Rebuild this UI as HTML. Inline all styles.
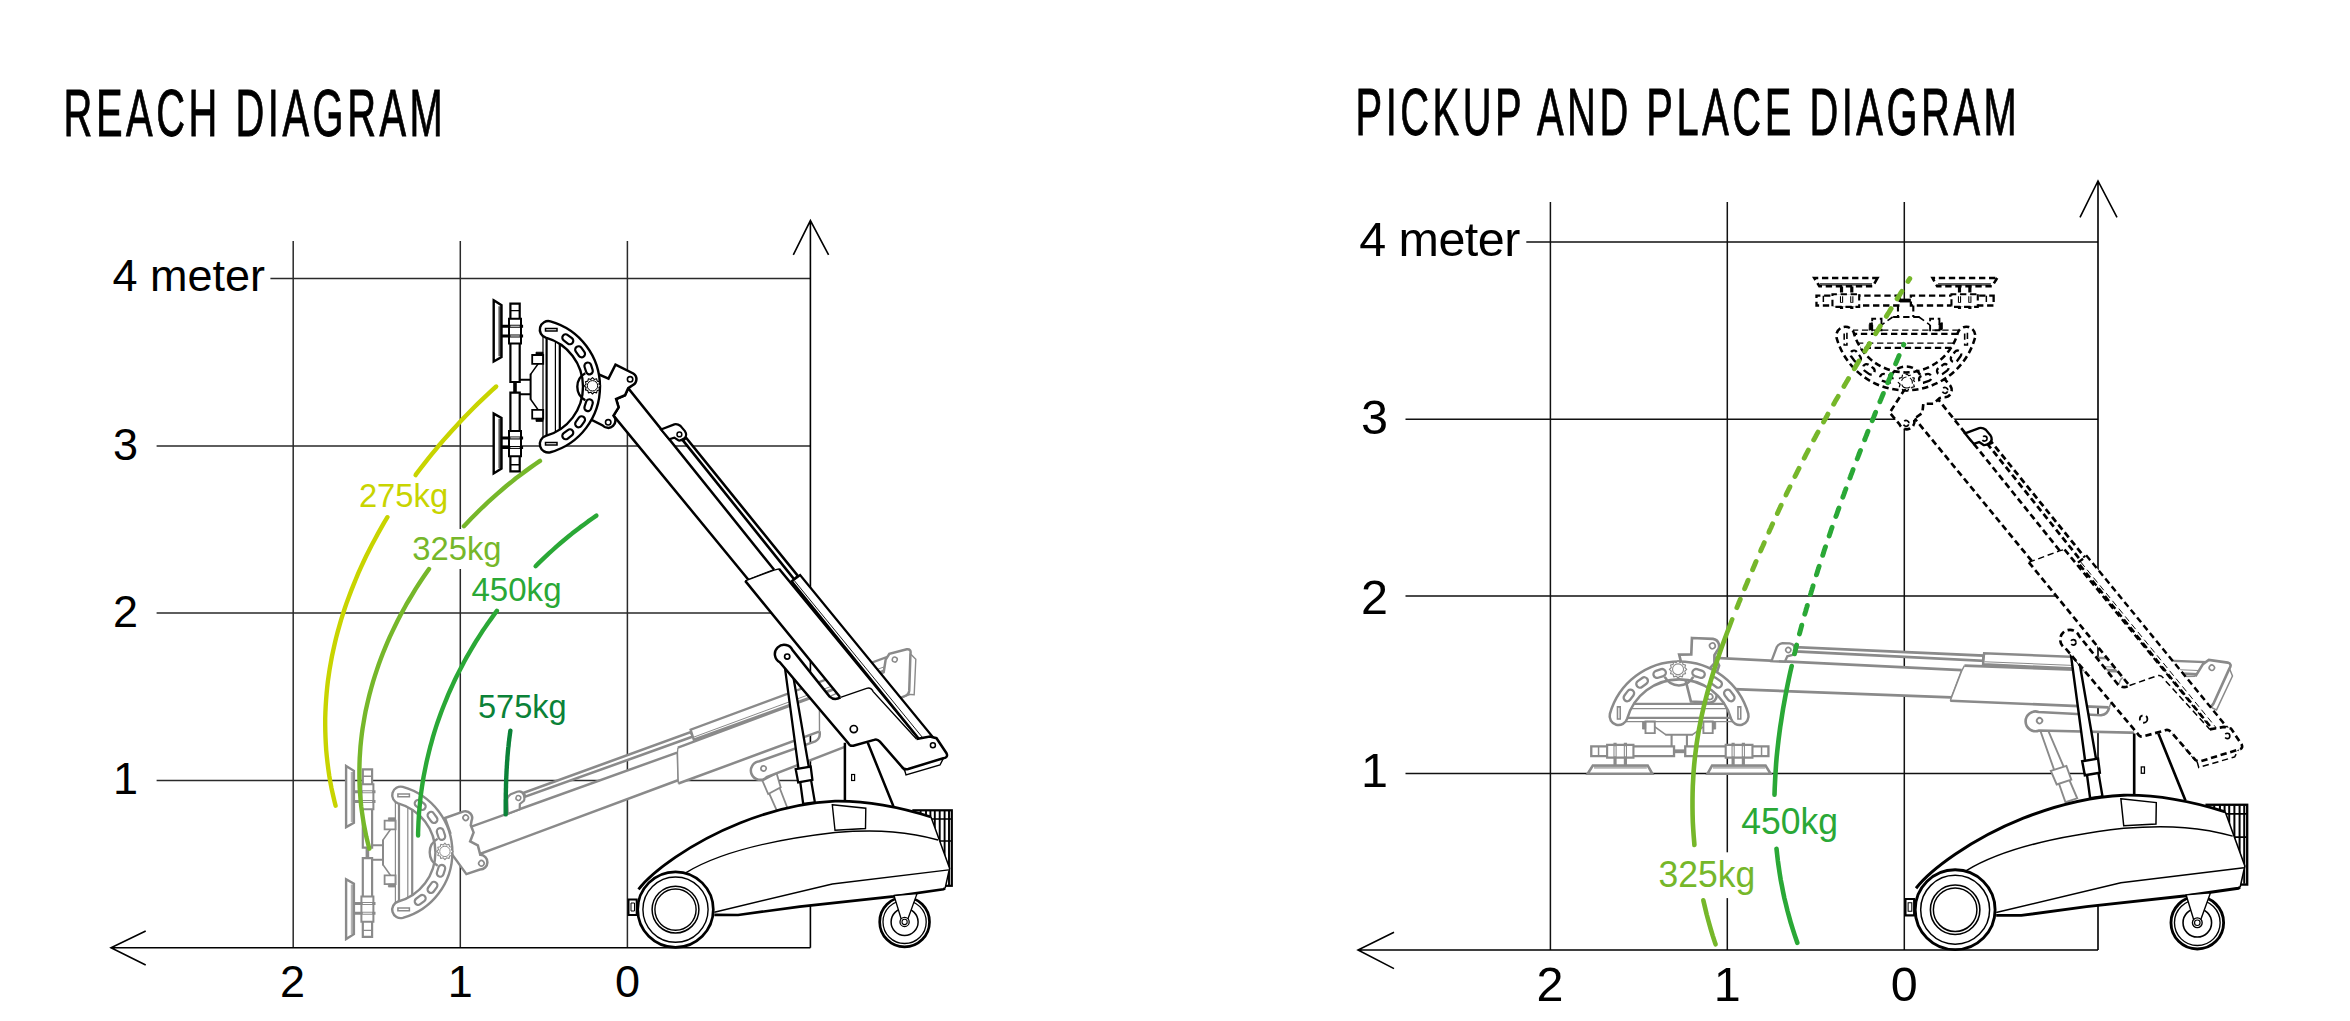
<!DOCTYPE html>
<html><head><meta charset="utf-8">
<style>
html,body{margin:0;padding:0;background:#fff;width:2350px;height:1021px;overflow:hidden}
svg{position:absolute;left:0;top:0;display:block}
text{font-family:"Liberation Sans",sans-serif}
</style></head><body>
<svg width="2350" height="1021" viewBox="0 0 2350 1021">
<defs>
<g id="head">
  <!-- mount -->
  <path d="M-1.4,-13 L11,-31 L11,31 L-1.4,13 Z" fill="#fff" stroke="none"/>
  <path d="M-1.4,-12.4 L11.2,-30.1 M-1.4,12.4 L11.2,30.1" fill="none" stroke-width="1.5"/>
  <path d="M0.2,-31.8h11v8.8h-11z M0.2,23h11v8.8h-11z" fill="#fff" stroke-width="1.8"/>
  <path d="M4,-34.6h7v3h-7z M4,31.6h7v3h-7z" fill="currentColor" stroke-width="0.8"/>
  <!-- connector lines -->
  <path d="M-12.7,-7.1H-1.4 M-12.7,7.4H-1.4 M-1.4,-13V13" fill="none" stroke-width="2"/>
  <!-- stems -->
  <rect x="-18.8" y="-5" width="3.6" height="11" fill="currentColor" stroke="none"/>
  <path d="M-21.6,-83.1h9.3v78.3h-9.3z M-21.6,5.8h9.3v78.7h-9.3z" fill="#fff" stroke-width="2.2"/>
  <path d="M-21.6,-76.2h9.3 M-21.6,78h9.3" fill="none" stroke-width="1.4"/>
  <path d="M-23,-68.1h12v24.9h-12z M-23,44.1h12v25.3h-12z" fill="#fff" stroke-width="2"/>
  <path d="M-30.5,-60.6H-8.9 M-30.5,-50.8H-8.9 M-30.5,51.1H-8.9 M-30.5,60.8H-8.9" fill="none" stroke-width="3"/>
  <path d="M-21.6,-60.6h9.3 M-21.6,-50.8h9.3 M-21.6,51.1h9.3 M-21.6,60.8h9.3" fill="none" stroke="#fff" stroke-width="1"/>
  <!-- pads -->
  <path d="M-38.3,-86.5 L-30.5,-81.6 L-30.5,-29.7 L-38.3,-25.3 Z M-38.3,26.8 L-30.5,31.2 L-30.5,81.8 L-38.3,86.6 Z" fill="#fff" stroke-width="2.4"/>
  <path d="M-33.6,-80.5h2.6v50h-2.6z M-33.6,32h2.6v49.5h-2.6z" fill="currentColor" stroke="none" opacity="0.65"/>
  <!-- ring -->
  <path d="M18.4,-65.46 A68,68 0 0 1 18.4,65.46 A8.5,8.5 0 0 1 13.8,49.1 A51,51 0 0 0 13.8,-49.1 A8.5,8.5 0 0 1 18.4,-65.46 Z" fill="#fff" stroke-width="2.4"/>
  <path d="M14.6,-49V49 M27.8,-43V43" fill="none" stroke-width="2.2"/>
  <path d="M11,-50V50 M23.4,-45.3V45.3" fill="none" stroke-width="1.2"/>
  <path d="M13.5,-58.3h11.5v2.6h-11.5z M13.5,55.7h11.5v2.6h-11.5z" fill="#fff" stroke-width="1.5"/>
  <g fill="#fff" stroke-width="2.2">
    <rect x="-6" y="-3.4" width="12" height="6.8" rx="3.4" transform="translate(35.8,-47.5) rotate(37)"/>
    <rect x="-6" y="-3.4" width="12" height="6.8" rx="3.4" transform="translate(48.1,-35) rotate(54)"/>
    <rect x="-6" y="-3.4" width="12" height="6.8" rx="3.4" transform="translate(56.6,-18.4) rotate(72)"/>
    <rect x="-6" y="-3.4" width="12" height="6.8" rx="3.4" transform="translate(56.6,18.4) rotate(108)"/>
    <rect x="-6" y="-3.4" width="12" height="6.8" rx="3.4" transform="translate(48.1,35) rotate(126)"/>
    <rect x="-6" y="-3.4" width="12" height="6.8" rx="3.4" transform="translate(35.8,47.5) rotate(143)"/>
  </g>
  <!-- gear -->
  <path d="M53.3,-13.6 A15.4,15.4 0 0 0 53.3,13.4" fill="none" stroke-width="2.4"/>
  <polygon points="68.70,-1.00 66.88,0.71 67.60,3.10 65.17,3.67 64.60,6.10 62.21,5.38 60.50,7.20 58.79,5.38 56.40,6.10 55.83,3.67 53.40,3.10 54.12,0.71 52.30,-1.00 54.12,-2.71 53.40,-5.10 55.83,-5.67 56.40,-8.10 58.79,-7.38 60.50,-9.20 62.21,-7.38 64.60,-8.10 65.17,-5.67 67.60,-5.10 66.88,-2.71" fill="#fff" stroke-width="1.1" stroke-linejoin="round"/>
  <circle cx="60.5" cy="-1" r="5.2" fill="none" stroke-width="1"/>
</g>
  <circle cx="60.5" cy="-1" r="7.2" fill="#fff" stroke-width="1.2"/>
</g>
<g id="armInner">
  <path d="M613.5,415.6 L618.6,407.3 L616.1,399 L625,395.2 L628.2,388.2 L774.1,569.7 L748.2,579.5 Z" fill="#fff" stroke="none"/>
  <path d="M748.2,579.5 L613.5,415.6 L618.6,407.3 L616.1,399 L625,395.2 L628.2,388.2 L774.1,569.7" fill="none" stroke-width="2.5"/>
  <path d="M774.1,569.7 L748.2,579.5" fill="none" stroke-width="1.3"/>
  <path d="M682.9,440.4 L686.1,437.8 L797.9,575.9 L794.4,579.5 Z" fill="#fff" stroke-width="2.6"/>
  <path d="M661,429.5 L674.3,424.4 Q677.4,423.6 680.6,426 L684.9,431.1 Q687.8,435.5 684.1,438.5 Q681,440.8 678.6,440.5 L674.3,437.7 L669.2,439.3 Z" fill="#fff" stroke-width="2.2" stroke-dasharray="none"/>
  <circle cx="679.4" cy="434.4" r="2.4" fill="#fff" stroke-width="1.5"/>
</g>
<g id="armOuter">
  <path d="M745.2,580.9 L774.1,570.1 L779,568.8 L919.9,739.9 L840,697 Z" fill="#fff" stroke="none"/>
  <path d="M745.2,580.9 L774.1,570.1 L779,568.8" fill="none" stroke-width="1.3"/>
  <path d="M779,568.8 L919.9,739.9 M745.2,580.9 L840,697" fill="none" stroke-width="2.5"/>
  <path d="M791.7,581.2 L800.1,575 L932.4,736.6 L919.9,739.9 Z" fill="#fff" stroke-width="2.3"/>
  <path d="M794.3,580.6 L922.5,737.5" fill="none" stroke-width="0.9"/>
  <path d="M904,768 L944,757 L940,765 L906,775 Z" fill="#fff" stroke-width="1.4"/>
  <path d="M881,742 L905,771" fill="none" stroke-width="1.4"/>
  <path d="M780,662.4 A9.3,9.3 0 1 1 792.7,650.4 L829.6,696.6 Q834.5,701 840.5,697.4 L866.6,688.3 Q871,687 873.2,691.6 L916.5,739 L929.9,736.6 L936.5,738.2 L946.5,753.2 Q948.5,757.5 943.2,758.2 L908.2,769 Q904,770 901.6,766.5 L879.9,741.6 Q877,738.5 874.1,739.9 L853.3,745.7 Q850,746.5 848.3,743.2 Z" fill="#fff" stroke="none"/>
  <path d="M840.5,697.4 L866.6,688.3 Q871,687 873.2,691.6 L916.5,739" fill="none" stroke-width="1.4"/>
  <path d="M916.5,739 L929.9,736.6 L936.5,738.2 L946.5,753.2 Q948.5,757.5 943.2,758.2 L908.2,769 Q904,770 901.6,766.5 L879.9,741.6 Q877,738.5 874.1,739.9 L853.3,745.7 Q850,746.5 848.3,743.2 L780,662.4 A9.3,9.3 0 1 1 792.7,650.4 L829.6,696.6 Q834.5,701 840.5,697.4" fill="none" stroke-width="2.5"/>
  <circle cx="787.2" cy="656.6" r="2.6" fill="#fff" stroke-width="1.7"/>
  <circle cx="853.8" cy="729.1" r="3.6" fill="#fff" stroke-width="1.7"/>
  <circle cx="932.9" cy="745.2" r="2.5" fill="#fff" stroke-width="1.5"/>
</g>
<g id="hbr">
  <path d="M615.5,364.6 L633.3,373.5 A6.8,6.8 0 0 1 632,385.6 L628.2,388.2 L625,395.2 L616.1,399 L618.6,407.3 L613.5,415.6 A6.6,6.6 0 0 1 602.7,425.5 L590,419 L598,374 L608.5,378.6 Z" fill="#fff" stroke-width="2.5"/>
  <circle cx="630.1" cy="379.3" r="2.7" fill="#fff" stroke-width="1.6"/>
  <circle cx="608.2" cy="422.3" r="2.7" fill="#fff" stroke-width="1.6"/>
</g>
<g id="base">
  <!-- grill -->
  <rect x="913.4" y="810.3" width="38.4" height="75.5" fill="#fff" stroke-width="2.2"/>
  <path d="M920.6,811V885 M926,811V885 M930.4,811V885 M934.8,811V885 M939.7,811V885 M944.6,811V885 M949,811V885" fill="none" stroke-width="1.9"/>
  <path d="M914,819H951 M914,841H951" fill="none" stroke-width="1.6"/>
  <!-- mast -->
  <path d="M844.9,735 L844.9,803 L893.4,806.3 L867.8,742.8 L860,735 Z" fill="#fff" stroke="none"/>
  <path d="M844.9,742.8V802 M867.8,742.8 L893.4,806.3" fill="none" stroke-width="2.5"/>
  <rect x="851.6" y="774.5" width="3" height="6" fill="#fff" stroke-width="1.2"/>
  <!-- body -->
  <path d="M638.5,889.3 C652,872 690,843 740,823 C770,811 800,803 835,801.2 C860,800.8 890,804 931,817 L949.6,868.2 L945.1,888.4 L943.4,889.3 L894,896.4 L799.8,906.6 L738.1,915 L714.3,914.9 L700,930 L650,930 Z" fill="#fff" stroke="none"/>
  <path d="M638.5,889.3 C652,872 690,843 740,823 C770,811 800,803 835,801.2 C860,800.8 890,804 931,817" fill="none" stroke-width="2.8"/>
  <path d="M931,817 L949.6,868.2 L945.1,888.4" fill="none" stroke-width="1.5"/>
  <path d="M945.1,888.4 L943.4,889.3 L894,896.4 L799.8,906.6 L738.1,915 L714.3,914.9" fill="none" stroke-width="2.7"/>
  <path d="M686.1,872.6 C720,852 770,840 835,832.5 C880,829 910,832 938.1,840" fill="none" stroke-width="1.4"/>
  <path d="M714.3,912.2 L832.3,884 L948.7,869.9" fill="none" stroke-width="1.4"/>
  <path d="M832.3,804.7 L865.8,808.2 L865.5,828.5 L835,830.2 Z" fill="#fff" stroke-width="1.4"/>
  <!-- bumper -->
  <path d="M628.5,899.5h8.2v15.4h-8.2z" fill="#fff" stroke-width="2"/>
  <path d="M631,903h3.5v8h-3.5z" fill="none" stroke-width="1"/>
  <!-- front wheel -->
  <circle cx="675.5" cy="909.6" r="37.8" fill="#fff" stroke-width="2.7"/>
  <circle cx="675.5" cy="909.6" r="32.6" fill="none" stroke-width="1.4"/>
  <circle cx="675.5" cy="909.6" r="23.4" fill="none" stroke-width="1.5"/>
  <circle cx="675.5" cy="909.6" r="20.6" fill="none" stroke-width="1.4"/>
  <!-- rear wheel -->
  <circle cx="904.6" cy="921.9" r="24.9" fill="#fff" stroke-width="2.7"/>
  <circle cx="904.6" cy="921.9" r="21.6" fill="none" stroke-width="1.3"/>
  <circle cx="904.6" cy="921.9" r="13.5" fill="none" stroke-width="1.5"/>
  <path d="M894,895.5 L917,893.7 L907.5,920 L901.5,920 Z" fill="#fff" stroke-width="1.3"/>
  <circle cx="904.6" cy="921.9" r="4.6" fill="#fff" stroke-width="1.3"/>
  <circle cx="904.6" cy="921.9" r="2.6" fill="none" stroke-width="1.1"/>
</g>
</defs>
<rect x="0" y="0" width="2350" height="1021" fill="#fff"/>
<text transform="scale(0.59,1)" x="107.8" y="135.8" font-size="67.6" letter-spacing="6" stroke="#000" stroke-width="0.9">REACH DIAGRAM</text>
<text transform="scale(0.59,1)" x="2297.5" y="135.5" font-size="67.6" letter-spacing="6" stroke="#000" stroke-width="0.9">PICKUP AND PLACE DIAGRAM</text>
<g stroke="#2a2a2a" stroke-width="1.5" fill="none">
  <path d="M270.4 278.6H810.4 M156.6 445.9H810.4 M156.6 613.1H810.4 M156.6 780.4H810.4"/>
  <path d="M293.2 241V947.7 M460.3 241V947.7 M627.4 241V947.7"/>
</g>
<g stroke="#000" stroke-width="1.6" fill="none">
  <path d="M810.4 220.6V947.7 M793.3 254.8L810.4 220.6L828.6 254.8"/>
  <path d="M111 947.7H810.4 M145.7 931L111 947.7L145.7 965"/>
</g>
<g font-size="45" fill="#000">
  <text x="112.5" y="291.2">4 meter</text>
  <text x="113" y="459.5">3</text>
  <text x="113" y="626.8">2</text>
  <text x="113" y="794">1</text>
  <text x="292.5" y="996.5" text-anchor="middle">2</text>
  <text x="460.3" y="996.5" text-anchor="middle">1</text>
  <text x="627.4" y="996.5" text-anchor="middle">0</text>
</g>
<g stroke="#111" stroke-width="1.5" fill="none">
  <path d="M1526.3 242H2098 M1405.5 419.2H2098 M1405.5 596H2098 M1405.5 773.5H2098"/>
  <path d="M1550.4 202V950 M1727.3 202V950 M1904.3 202V950"/>
</g>
<g stroke="#000" stroke-width="1.6" fill="none">
  <path d="M2098 181V950 M2080 217.3L2098 181L2117 217.3"/>
  <path d="M1358 950H2098 M1394 932.3L1358 950L1394 968.6"/>
</g>
<g font-size="48.5" fill="#000">
  <text x="1359.3" y="256" textLength="161">4 meter</text>
  <text x="1361" y="433.9">3</text>
  <text x="1361" y="613.6">2</text>
  <text x="1361" y="787">1</text>
  <text x="1550" y="1001.3" text-anchor="middle">2</text>
  <text x="1727.3" y="1001.3" text-anchor="middle">1</text>
  <text x="1904.3" y="1001.3" text-anchor="middle">0</text>
</g>
<g stroke="#8a8a8a" color="#8a8a8a">
<path d="M763.2,779.9 L774.9,775.7 L788.2,810 L776.6,810 Z" fill="#fff" stroke-width="1.8"/>
<path d="M762.4,780.7 L776.6,773.2 L780.7,787.4 L768.2,794 Z" fill="#fff" stroke-width="1.8"/>
<use href="#armInner" transform="rotate(-71,853.8,729.1)"/>
<use href="#armOuter" transform="rotate(-71,853.8,729.1)"/>
<use href="#hbr" transform="translate(465.7,817.7) rotate(-46) translate(-630.1,-379.3)"/>
<use href="#head" transform="translate(384.4,852.4)"/>
</g>
<rect x="450" y="529" width="20" height="40" fill="#fff"/>
<rect x="1717" y="852.3" width="20" height="45.8" fill="#fff"/>
<path d="M496.2,386.5 L491.6,390.6 L487.1,394.8 L482.6,399.1 L478.1,403.4 L473.7,407.8 L469.3,412.2 L464.9,416.7 L460.6,421.3 L456.3,425.9 L452.1,430.5 L447.9,435.2 L443.7,439.9 L439.6,444.7 L435.6,449.6 L431.6,454.4 L427.6,459.4 L423.7,464.4 L419.8,469.4 L416.0,474.4 L415.6,475.1" fill="none" stroke="#c8d400" stroke-width="4.4" stroke-linecap="round" stroke-linejoin="round"/>
<path d="M387.4,517.2 L384.1,522.6 L381.0,528.1 L377.9,533.6 L374.9,539.2 L371.9,544.8 L369.0,550.4 L366.2,556.0 L363.5,561.7 L360.9,567.4 L358.3,573.2 L355.9,579.0 L353.5,584.8 L351.2,590.6 L349.0,596.5 L346.8,602.4 L344.8,608.3 L342.9,614.2 L341.0,620.2 L339.3,626.2 L337.6,632.2 L336.0,638.3 L334.6,644.3 L333.2,650.4 L331.9,656.5 L330.8,662.6 L329.7,668.8 L328.8,674.9 L327.9,681.1 L327.2,687.3 L326.6,693.5 L326.1,699.8 L325.7,706.0 L325.4,712.3 L325.2,718.5 L325.2,724.8 L325.3,731.1 L325.5,737.4 L325.8,743.7 L326.2,750.1 L326.8,756.4 L327.5,762.7 L328.3,769.1 L329.2,775.4 L330.3,781.8 L331.5,788.2 L332.9,794.5 L334.4,800.9 L335.6,805.7" fill="none" stroke="#c8d400" stroke-width="4.4" stroke-linecap="round" stroke-linejoin="round"/>
<path d="M540.0,460.9 L535.1,464.2 L530.3,467.6 L525.5,471.1 L520.7,474.7 L515.9,478.3 L511.3,482.1 L506.6,485.8 L502.0,489.7 L497.5,493.6 L493.0,497.6 L488.5,501.7 L484.1,505.8 L479.7,510.0 L475.5,514.2 L471.2,518.5 L467.0,522.9 L463.9,526.2" fill="none" stroke="#76b72a" stroke-width="4.4" stroke-linecap="round" stroke-linejoin="round"/>
<path d="M429.0,569.0 L425.5,574.0 L422.1,579.0 L418.8,584.0 L415.5,589.1 L412.4,594.3 L409.3,599.5 L406.2,604.7 L403.3,610.0 L400.4,615.3 L397.7,620.6 L395.0,626.0 L392.4,631.4 L389.8,636.9 L387.4,642.4 L385.1,647.9 L382.8,653.5 L380.7,659.1 L378.6,664.7 L376.7,670.4 L374.8,676.1 L373.0,681.8 L371.4,687.5 L369.8,693.3 L368.4,699.1 L367.0,704.9 L365.7,710.7 L364.6,716.6 L363.6,722.5 L362.6,728.4 L361.8,734.3 L361.1,740.2 L360.5,746.2 L360.1,752.1 L359.7,758.1 L359.5,764.1 L359.4,770.1 L359.4,776.1 L359.5,782.1 L359.7,788.2 L360.1,794.2 L360.6,800.2 L361.2,806.3 L362.0,812.3 L362.9,818.4 L363.9,824.5 L365.1,830.5 L366.3,836.6 L367.8,842.7 L369.3,848.7 L369.3,848.7" fill="none" stroke="#76b72a" stroke-width="4.4" stroke-linecap="round" stroke-linejoin="round"/>
<path d="M596.4,515.6 L592.3,518.5 L588.1,521.4 L584.1,524.4 L580.0,527.4 L576.0,530.5 L572.0,533.6 L568.1,536.8 L564.2,540.0 L560.3,543.3 L556.4,546.6 L552.7,550.0 L548.9,553.4 L545.2,556.9 L541.5,560.4 L537.9,563.9 L535.6,566.2" fill="none" stroke="#2aa836" stroke-width="4.4" stroke-linecap="round" stroke-linejoin="round"/>
<path d="M496.9,610.8 L493.9,614.9 L490.9,619.1 L487.9,623.2 L485.1,627.4 L482.2,631.6 L479.5,635.9 L476.7,640.2 L474.1,644.5 L471.5,648.9 L468.9,653.3 L466.4,657.7 L463.9,662.2 L461.6,666.7 L459.2,671.2 L456.9,675.7 L454.7,680.3 L452.6,684.9 L450.5,689.5 L448.4,694.2 L446.5,698.8 L444.6,703.5 L442.7,708.3 L440.9,713.0 L439.2,717.8 L437.5,722.6 L435.9,727.4 L434.4,732.2 L432.9,737.1 L431.6,742.0 L430.2,746.9 L429.0,751.8 L427.8,756.7 L426.6,761.7 L425.6,766.6 L424.6,771.6 L423.6,776.6 L422.8,781.6 L422.0,786.7 L421.3,791.7 L420.6,796.7 L420.1,801.8 L419.6,806.9 L419.1,812.0 L418.8,817.1 L418.5,822.2 L418.3,827.3 L418.1,832.4 L418.1,835.6" fill="none" stroke="#2aa836" stroke-width="4.4" stroke-linecap="round" stroke-linejoin="round"/>
<path d="M510.4,730.7 L510.2,731.8 L510.1,732.9 L509.9,734.0 L509.8,735.1 L509.6,736.3 L509.5,737.4 L509.3,738.5 L509.2,739.6 L509.1,740.7 L508.9,741.8 L508.8,742.9 L508.7,744.0 L508.6,745.2 L508.5,746.3 L508.3,747.4 L508.2,748.5 L508.1,749.6 L508.0,750.7 L507.9,751.8 L507.8,753.0 L507.7,754.1 L507.6,755.2 L507.5,756.3 L507.4,757.4 L507.4,758.5 L507.3,759.7 L507.2,760.8 L507.1,761.9 L507.0,763.0 L507.0,764.1 L506.9,765.3 L506.8,766.4 L506.8,767.5 L506.7,768.6 L506.6,769.7 L506.6,770.8 L506.5,772.0 L506.5,773.1 L506.4,774.2 L506.4,775.3 L506.3,776.4 L506.3,777.6 L506.2,778.7 L506.2,779.8 L506.2,780.9 L506.1,782.0 L506.1,783.2 L506.0,784.3 L506.0,785.4 L506.0,786.5 L506.0,787.6 L505.9,788.8 L505.9,789.9 L505.9,791.0 L505.9,792.1 L505.8,793.3 L505.8,794.4 L505.8,795.5 L505.8,796.6 L505.8,797.7 L505.8,798.9 L505.7,800.0 L505.7,801.1 L505.7,802.2 L505.7,803.3 L505.7,804.5 L505.7,805.6 L505.7,806.7 L505.7,807.8 L505.7,808.9 L505.7,810.1 L505.7,811.2 L505.7,812.3 L505.7,813.4 L505.7,814.4" fill="none" stroke="#0b8238" stroke-width="4.4" stroke-linecap="round" stroke-linejoin="round"/>
<text x="358.9" y="506.9" font-size="32.7" fill="#c8d400" textLength="89.2" lengthAdjust="spacingAndGlyphs">275kg</text>
<text x="412.3" y="560.3" font-size="32.7" fill="#76b72a" textLength="89.2" lengthAdjust="spacingAndGlyphs">325kg</text>
<text x="471.5" y="600.7" font-size="32.7" fill="#2aa836" textLength="90.0" lengthAdjust="spacingAndGlyphs">450kg</text>
<text x="478.0" y="718.0" font-size="32.7" fill="#0b8238" textLength="88.7" lengthAdjust="spacingAndGlyphs">575kg</text>
<g stroke="#000" color="#000">
<path d="M784.9,667.6 L793.5,677.8 L814.9,802.4 L803.2,804 Z" fill="#fff" stroke-width="2.3"/>
<path d="M795.7,769.1 L810.7,766.6 L812.4,779.9 L798.2,782.4 Z" fill="#fff" stroke-width="2.3"/>
<use href="#base"/>
<use href="#armInner"/>
<use href="#armOuter"/>
<use href="#hbr"/>
<use href="#head" transform="translate(532,386.8)"/>
</g>
<g stroke="#8a8a8a" color="#8a8a8a">
<path d="M2040,729.7 L2047.8,729.7 L2077.2,798.3 L2065.5,802.2 Z" fill="#fff" stroke-width="1.9"/>
<path d="M2050.8,770.8 L2066.4,765.9 L2071.3,779.6 L2056.7,784.5 Z" fill="#fff" stroke-width="1.9"/>
<use href="#armInner" transform="translate(1904.3,950) scale(1.057) translate(-627.4,-947.7) rotate(-48.4,853.8,729.1)"/>
<use href="#armOuter" transform="translate(1904.3,950) scale(1.057) translate(-627.4,-947.7) rotate(-48.4,853.8,729.1)"/>
<use href="#hbr" transform="translate(1712.4,645.8) rotate(-24.2) scale(1.057) translate(-630.1,-379.3)"/>
<use href="#head" transform="translate(1679.1,733.3) scale(1.057) rotate(-90)"/>
</g>
<g stroke="#000" color="#000">
<path d="M784.9,667.6 L793.5,677.8 L814.9,802.4 L803.2,804 Z" transform="translate(1904.3,950) scale(1.057) translate(-627.4,-947.7)" fill="#fff" stroke-width="2.3"/>
<path d="M795.7,769.1 L810.7,766.6 L812.4,779.9 L798.2,782.4 Z" transform="translate(1904.3,950) scale(1.057) translate(-627.4,-947.7)" fill="#fff" stroke-width="2.3"/>
<use href="#base" transform="translate(1904.3,950) scale(1.057) translate(-627.4,-947.7)"/>
</g>
<rect x="1896" y="299" width="17" height="128" fill="#fff"/>
<g stroke="#000" color="#000" stroke-dasharray="6 3.5">
<use href="#armInner" transform="translate(1904.3,950) scale(1.057) translate(-627.4,-947.7) translate(23.9,29.5)"/>
<use href="#armOuter" transform="translate(1904.3,950) scale(1.057) translate(-627.4,-947.7)"/>
<use href="#hbr" transform="translate(1945,390.3) rotate(22.7) scale(1.057) translate(-630.1,-379.3)"/>
<use href="#head" transform="translate(1905.8,318.5) scale(1.057) rotate(90)"/>
</g>
<path d="M1736.9,607.6 L1737.6,605.9 L1738.3,604.2 L1738.9,602.5 L1739.6,600.9 L1740.3,599.2 L1741.0,597.5 L1741.7,595.9 L1742.4,594.2 L1743.1,592.5 L1743.7,590.8 L1744.4,589.2 L1745.1,587.5 L1745.8,585.8 L1746.5,584.2 L1747.2,582.5 L1747.9,580.8 L1748.6,579.2 L1749.3,577.5 L1750.0,575.8 L1750.7,574.2 L1751.4,572.5 L1752.1,570.9 L1752.8,569.2 L1753.5,567.5 L1754.2,565.9 L1754.9,564.2 L1755.6,562.6 L1756.3,560.9 L1757.0,559.3 L1757.8,557.6 L1758.5,556.0 L1759.2,554.3 L1759.9,552.6 L1760.6,551.0 L1761.3,549.3 L1762.0,547.7 L1762.8,546.0 L1763.5,544.4 L1764.2,542.7 L1764.9,541.1 L1765.6,539.5 L1766.4,537.8 L1767.1,536.2 L1767.8,534.5 L1768.6,532.9 L1769.3,531.2 L1770.0,529.6 L1770.8,528.0 L1771.5,526.3 L1772.2,524.7 L1773.0,523.1 L1773.7,521.4 L1774.4,519.8 L1775.2,518.1 L1775.9,516.5 L1776.7,514.9 L1777.4,513.3 L1778.2,511.6 L1778.9,510.0 L1779.7,508.4 L1780.4,506.7 L1781.2,505.1 L1782.0,503.5 L1782.7,501.9 L1783.5,500.2 L1784.2,498.6 L1785.0,497.0 L1785.8,495.4 L1786.5,493.8 L1787.3,492.1 L1788.1,490.5 L1788.9,488.9 L1789.7,487.3 L1790.4,485.7 L1791.2,484.1 L1792.0,482.5 L1792.8,480.8 L1793.6,479.2 L1794.4,477.6 L1795.2,476.0 L1796.0,474.4 L1796.8,472.8 L1797.6,471.2 L1798.4,469.6 L1799.2,468.0 L1800.0,466.4 L1800.8,464.8 L1801.6,463.2 L1802.4,461.6 L1803.2,460.0 L1804.1,458.4 L1804.9,456.8 L1805.7,455.2 L1806.5,453.6 L1807.4,452.0 L1808.2,450.4 L1809.0,448.9 L1809.9,447.3 L1810.7,445.7 L1811.5,444.1 L1812.4,442.5 L1813.2,440.9 L1814.1,439.3 L1814.9,437.8 L1815.8,436.2 L1816.6,434.6 L1817.5,433.0 L1818.4,431.4 L1819.2,429.9 L1820.1,428.3 L1821.0,426.7 L1821.8,425.1 L1822.7,423.6 L1823.6,422.0 L1824.4,420.4 L1825.3,418.9 L1826.2,417.3 L1827.1,415.7 L1827.9,414.1 L1828.8,412.6 L1829.7,411.0 L1830.6,409.4 L1831.5,407.9 L1832.4,406.3 L1833.3,404.8 L1834.2,403.2 L1835.1,401.6 L1836.0,400.1 L1836.9,398.5 L1837.8,397.0 L1838.7,395.4 L1839.6,393.8 L1840.5,392.3 L1841.4,390.7 L1842.3,389.2 L1843.2,387.6 L1844.1,386.1 L1845.0,384.5 L1845.9,383.0 L1846.8,381.4 L1847.7,379.9 L1848.7,378.3 L1849.6,376.8 L1850.5,375.2 L1851.4,373.7 L1852.3,372.1 L1853.3,370.6 L1854.2,369.0 L1855.1,367.5 L1856.0,365.9 L1857.0,364.4 L1857.9,362.8 L1858.8,361.3 L1859.7,359.8 L1860.7,358.2 L1861.6,356.7 L1862.5,355.1 L1863.5,353.6 L1864.4,352.1 L1865.3,350.5 L1866.3,349.0 L1867.2,347.4 L1868.1,345.9 L1869.1,344.4 L1870.0,342.8 L1871.0,341.3 L1871.9,339.8 L1872.8,338.2 L1873.8,336.7 L1874.7,335.1 L1875.7,333.6 L1876.6,332.1 L1877.6,330.5 L1878.5,329.0 L1879.4,327.5 L1880.4,325.9 L1881.3,324.4 L1882.3,322.9 L1883.2,321.4 L1884.2,319.8 L1885.1,318.3 L1886.1,316.8 L1887.0,315.2 L1888.0,313.7 L1888.9,312.2 L1889.9,310.6 L1890.8,309.1 L1891.8,307.6 L1892.7,306.1 L1893.7,304.5 L1894.6,303.0 L1895.5,301.5 L1896.5,299.9 L1897.4,298.4 L1898.4,296.9 L1899.3,295.4 L1900.3,293.8 L1901.2,292.3 L1902.2,290.8 L1903.1,289.3 L1904.1,287.7 L1905.0,286.2 L1906.0,284.7 L1906.9,283.1 L1907.9,281.6 L1908.8,280.1 L1909.8,278.6" fill="none" stroke="#76b72a" stroke-width="4.9" stroke-linecap="round" stroke-linejoin="round" stroke-dasharray="9 11.5"/>
<path d="M1732.2,619.3 L1729.6,626.1 L1727.0,632.8 L1724.5,639.6 L1722.0,646.4 L1719.6,653.2 L1717.3,660.0 L1715.0,666.9 L1712.9,673.7 L1710.8,680.6 L1708.8,687.5 L1706.9,694.4 L1705.1,701.3 L1703.4,708.3 L1701.8,715.3 L1700.4,722.2 L1699.0,729.3 L1697.8,736.3 L1696.7,743.4 L1695.8,750.4 L1694.9,757.5 L1694.2,764.6 L1693.6,771.7 L1693.2,778.9 L1692.8,786.0 L1692.6,793.1 L1692.5,800.3 L1692.5,807.4 L1692.6,814.6 L1692.8,821.8 L1693.2,828.9 L1693.7,836.1 L1694.3,843.3 L1694.4,845.0" fill="none" stroke="#76b72a" stroke-width="4.6" stroke-linecap="round" stroke-linejoin="round"/>
<path d="M1703.3,900.3 L1705.0,907.4 L1706.7,914.5 L1708.6,921.5 L1710.6,928.6 L1712.7,935.6 L1715.0,942.6 L1715.6,944.3" fill="none" stroke="#76b72a" stroke-width="4.6" stroke-linecap="round" stroke-linejoin="round"/>
<path d="M1794.5,653.8 L1794.9,652.3 L1795.2,650.8 L1795.6,649.3 L1796.0,647.7 L1796.3,646.2 L1796.7,644.7 L1797.1,643.2 L1797.5,641.7 L1797.9,640.2 L1798.3,638.7 L1798.6,637.1 L1799.0,635.6 L1799.4,634.1 L1799.8,632.6 L1800.2,631.1 L1800.6,629.6 L1801.0,628.1 L1801.4,626.6 L1801.8,625.1 L1802.2,623.6 L1802.7,622.1 L1803.1,620.5 L1803.5,619.0 L1803.9,617.5 L1804.3,616.0 L1804.7,614.5 L1805.1,613.0 L1805.6,611.5 L1806.0,610.0 L1806.4,608.5 L1806.9,607.0 L1807.3,605.5 L1807.7,604.0 L1808.1,602.5 L1808.6,601.0 L1809.0,599.5 L1809.5,598.0 L1809.9,596.5 L1810.3,595.0 L1810.8,593.5 L1811.2,592.0 L1811.7,590.5 L1812.1,589.0 L1812.6,587.5 L1813.0,586.0 L1813.5,584.5 L1813.9,583.0 L1814.4,581.6 L1814.8,580.1 L1815.3,578.6 L1815.8,577.1 L1816.2,575.6 L1816.7,574.1 L1817.2,572.6 L1817.6,571.1 L1818.1,569.6 L1818.6,568.1 L1819.0,566.7 L1819.5,565.2 L1820.0,563.7 L1820.5,562.2 L1820.9,560.7 L1821.4,559.2 L1821.9,557.7 L1822.4,556.2 L1822.9,554.8 L1823.4,553.3 L1823.8,551.8 L1824.3,550.3 L1824.8,548.8 L1825.3,547.4 L1825.8,545.9 L1826.3,544.4 L1826.8,542.9 L1827.3,541.4 L1827.8,540.0 L1828.3,538.5 L1828.8,537.0 L1829.3,535.5 L1829.8,534.0 L1830.3,532.6 L1830.8,531.1 L1831.3,529.6 L1831.8,528.1 L1832.3,526.7 L1832.9,525.2 L1833.4,523.7 L1833.9,522.2 L1834.4,520.8 L1834.9,519.3 L1835.4,517.8 L1835.9,516.4 L1836.5,514.9 L1837.0,513.4 L1837.5,511.9 L1838.0,510.5 L1838.6,509.0 L1839.1,507.5 L1839.6,506.1 L1840.1,504.6 L1840.7,503.1 L1841.2,501.7 L1841.7,500.2 L1842.3,498.7 L1842.8,497.3 L1843.3,495.8 L1843.9,494.3 L1844.4,492.9 L1844.9,491.4 L1845.5,489.9 L1846.0,488.5 L1846.6,487.0 L1847.1,485.6 L1847.7,484.1 L1848.2,482.6 L1848.7,481.2 L1849.3,479.7 L1849.8,478.3 L1850.4,476.8 L1850.9,475.3 L1851.5,473.9 L1852.0,472.4 L1852.6,471.0 L1853.1,469.5 L1853.7,468.1 L1854.3,466.6 L1854.8,465.1 L1855.4,463.7 L1855.9,462.2 L1856.5,460.8 L1857.0,459.3 L1857.6,457.9 L1858.2,456.4 L1858.7,455.0 L1859.3,453.5 L1859.8,452.1 L1860.4,450.6 L1861.0,449.2 L1861.5,447.7 L1862.1,446.3 L1862.7,444.8 L1863.2,443.4 L1863.8,441.9 L1864.4,440.5 L1865.0,439.0 L1865.5,437.6 L1866.1,436.1 L1866.7,434.7 L1867.2,433.2 L1867.8,431.8 L1868.4,430.3 L1869.0,428.9 L1869.5,427.5 L1870.1,426.0 L1870.7,424.6 L1871.3,423.1 L1871.9,421.7 L1872.4,420.2 L1873.0,418.8 L1873.6,417.4 L1874.2,415.9 L1874.8,414.5 L1875.3,413.0 L1875.9,411.6 L1876.5,410.2 L1877.1,408.7 L1877.7,407.3 L1878.3,405.8 L1878.8,404.4 L1879.4,403.0 L1880.0,401.5 L1880.6,400.1 L1881.2,398.7 L1881.8,397.2 L1882.4,395.8 L1883.0,394.4 L1883.5,392.9 L1884.1,391.5 L1884.7,390.1 L1885.3,388.6 L1885.9,387.2 L1886.5,385.8 L1887.1,384.3 L1887.7,382.9 L1888.3,381.5 L1888.9,380.0 L1889.5,378.6 L1890.1,377.2 L1890.7,375.7 L1891.2,374.3 L1891.8,372.9 L1892.4,371.5 L1893.0,370.0 L1893.6,368.6 L1894.2,367.2 L1894.8,365.7 L1895.4,364.3 L1896.0,362.9 L1896.6,361.5 L1897.2,360.0 L1897.8,358.6 L1898.4,357.2 L1899.0,355.8 L1899.6,354.3 L1900.2,352.9 L1900.8,351.5 L1901.4,350.1 L1902.0,348.6 L1902.6,347.2 L1903.2,345.8 L1903.8,344.4" fill="none" stroke="#2aa836" stroke-width="4.9" stroke-linecap="round" stroke-linejoin="round" stroke-dasharray="9 11.5"/>
<path d="M1791.7,666.0 L1790.3,672.0 L1789.0,678.1 L1787.7,684.2 L1786.5,690.3 L1785.3,696.5 L1784.2,702.6 L1783.1,708.7 L1782.1,714.8 L1781.2,720.9 L1780.2,727.1 L1779.4,733.2 L1778.6,739.4 L1777.9,745.5 L1777.2,751.7 L1776.6,757.8 L1776.1,764.0 L1775.7,770.1 L1775.3,776.3 L1775.0,782.5 L1774.7,788.6 L1774.5,794.8 L1774.5,794.8" fill="none" stroke="#2aa836" stroke-width="4.6" stroke-linecap="round" stroke-linejoin="round"/>
<path d="M1776.5,848.8 L1777.2,855.0 L1777.9,861.1 L1778.8,867.3 L1779.7,873.5 L1780.7,879.7 L1781.9,885.8 L1783.1,892.0 L1784.4,898.2 L1785.9,904.3 L1787.4,910.5 L1789.1,916.6 L1790.8,922.8 L1792.7,928.9 L1794.7,935.1 L1796.8,941.2 L1797.3,942.8" fill="none" stroke="#2aa836" stroke-width="4.6" stroke-linecap="round" stroke-linejoin="round"/>
<text x="1658.5" y="886.7" font-size="36.2" fill="#76b72a" textLength="96.8" lengthAdjust="spacingAndGlyphs">325kg</text>
<text x="1741.3" y="833.7" font-size="36.2" fill="#2aa836" textLength="96.8" lengthAdjust="spacingAndGlyphs">450kg</text>
</svg>
</body></html>
